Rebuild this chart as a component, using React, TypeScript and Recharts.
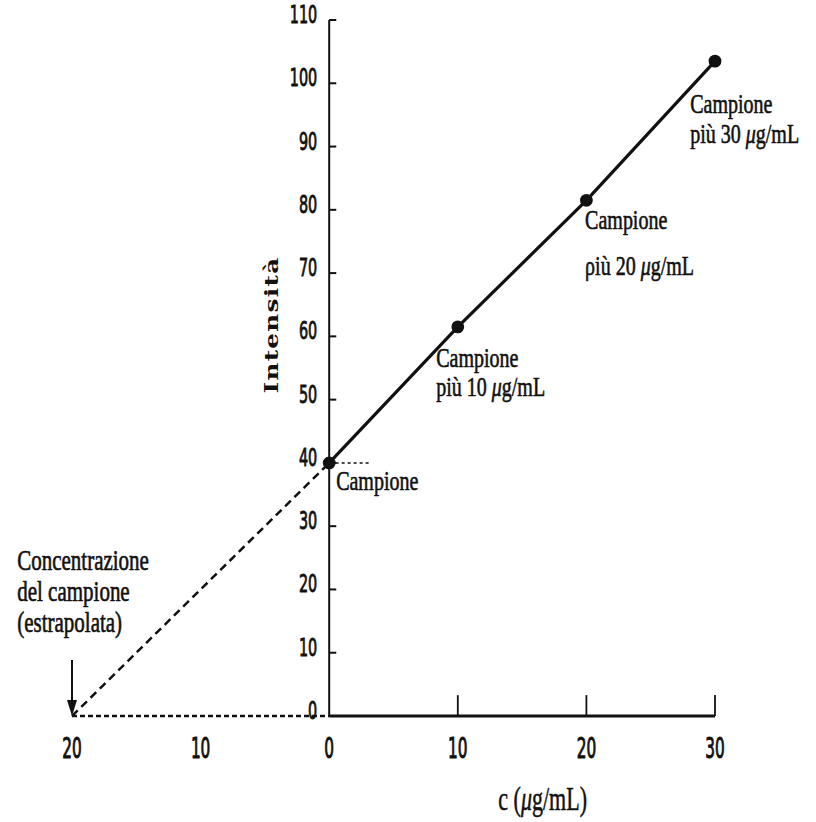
import React from "react";
import {
  ComposedChart,
  Line,
  XAxis,
  YAxis,
  ReferenceLine,
  ReferenceDot,
} from "recharts";

// ---- data ----
const concValues = [0, 10, 20, 30];
const intensityValues = [40, 61.5, 81.5, 103.5];
const xTicks = [-20, -10, 0, 10, 20, 30];
const yTicks = [0, 10, 20, 30, 40, 50, 60, 70, 80, 90, 100, 110];
const extrapolatedConc = -20;
const sampleIntensity = 40;

const data = concValues.map((c, i) => ({ conc: c, intensity: intensityValues[i] }));

// annotation anchors (data units)
const annotations = [
  { x: 28.07, y: 95.3, lines: ["Campione", "più 30 μg/mL"], gap: 30 },
  { x: 19.9, y: 77.0, lines: ["Campione", "ρiù 20 μg/mL"], gap: 46 },
  { x: 8.32, y: 55.2, lines: ["Campione", "più 10 μg/mL"], gap: 29 },
  { x: 0.54, y: 35.7, lines: ["Campione"], gap: 30 },
];
const extrapLabel = {
  x: -24.26,
  y: 23.1,
  lines: ["Concentrazione", "del campione", "(estrapolata)"],
  gap: 31,
};

const SERIF = "'Liberation Serif', 'Times New Roman', serif";
const NUM = "'DejaVu Sans Condensed', 'Liberation Sans Narrow', sans-serif";
const INK = "#111";

function renderLine(s: string) {
  const idx = s.indexOf("μ");
  if (idx < 0) return s;
  return (
    <>
      {s.slice(0, idx)}
      <tspan fontStyle="italic">μ</tspan>
      {s.slice(idx + 1)}
    </>
  );
}

function makeTextShape(lines: string[], gap: number, size: number, sy: number) {
  return (p: any) => (
    <g transform={`translate(${p.cx},${p.cy}) scale(1,${sy})`}>
      <text
        fontFamily={SERIF}
        fontSize={size}
        fill={INK}
        stroke={INK}
        strokeWidth={0.45}
        textAnchor="start"
      >
        {lines.map((l, i) => (
          <tspan key={i} x={0} y={(i * gap) / sy}>
            {renderLine(l)}
          </tspan>
        ))}
      </text>
    </g>
  );
}

const XTick = (props: any) => {
  const { x, y, payload } = props;
  return (
    <g transform={`translate(${x},${y + 34}) scale(1,1.65)`}>
      <text
        fontFamily={NUM}
        fontSize={17}
        fill={INK}
        stroke={INK}
        strokeWidth={0.6}
        textAnchor="middle"
      >
        {Math.abs(payload.value)}
      </text>
    </g>
  );
};

const YTickShape = (label: number) => (p: any) => (
  <g transform={`translate(${p.cx - 12},${p.cy + 3}) scale(1,1.5)`}>
    <text
      fontFamily={NUM}
      fontSize={16}
      fill={INK}
      stroke={INK}
      strokeWidth={0.55}
      textAnchor="end"
    >
      {label}
    </text>
  </g>
);

const ArrowHead = (p: any) => (
  <path
    d={`M${p.cx - 5},${p.cy - 16} L${p.cx + 5},${p.cy - 16} L${p.cx},${p.cy} Z`}
    fill={INK}
  />
);

const IntensityLabel = (p: any) => (
  <g transform={`translate(${p.cx},${p.cy}) rotate(-90) scale(1.3,1)`}>
    <text
      fontFamily="'DejaVu Serif', serif"
      fontWeight="bold"
      fontSize={19}
      letterSpacing={1}
      fill={INK}
      textAnchor="middle"
      dominantBaseline="central"
    >
      Intensità
    </text>
  </g>
);

const XTitle = (p: any) => (
  <g transform={`translate(${p.cx},${p.cy}) scale(1,1.55)`}>
    <text
      fontFamily={SERIF}
      fontSize={22}
      fill={INK}
      stroke={INK}
      strokeWidth={0.35}
      textAnchor="middle"
    >
      c (<tspan fontStyle="italic">μ</tspan>g/mL)
    </text>
  </g>
);

export default function App() {
  return (
    <div
      style={{
        position: "fixed",
        left: 0,
        top: 0,
        width: 816,
        height: 822,
        background: "#fff",
      }}
    >
      <ComposedChart
        width={816}
        height={822}
        data={data}
        margin={{ top: 20, right: 101, bottom: 46, left: 72 }}
      >
        <XAxis
          type="number"
          dataKey="conc"
          domain={[-20, 30]}
          ticks={xTicks}
          interval={0}
          axisLine={false}
          tickLine={false}
          height={60}
          tick={<XTick />}
        />
        <YAxis type="number" domain={[0, 110]} hide />

        {/* y axis line */}
        <ReferenceLine
          segment={[
            { x: 0, y: 0 },
            { x: 0, y: 110 },
          ]}
          stroke={INK}
          strokeWidth={2}
        />
        {/* y ticks */}
        {yTicks
          .filter((v) => v > 0)
          .map((v) => (
            <ReferenceLine
              key={"yt" + v}
              segment={[
                { x: 0, y: v },
                { x: 0.55, y: v },
              ]}
              stroke={INK}
              strokeWidth={2}
            />
          ))}
        {yTicks.map((v) => (
          <ReferenceDot
            key={"yl" + v}
            x={0}
            y={v}
            r={0}
            ifOverflow="visible"
            shape={YTickShape(v)}
          />
        ))}

        {/* x axis solid part */}
        <ReferenceLine
          segment={[
            { x: 0, y: 0 },
            { x: 30, y: 0 },
          ]}
          stroke={INK}
          strokeWidth={3}
        />
        {concValues
          .filter((v) => v > 0)
          .map((v) => (
            <ReferenceLine
              key={"xt" + v}
              segment={[
                { x: v, y: 0 },
                { x: v, y: 3.3 },
              ]}
              stroke={INK}
              strokeWidth={1.8}
            />
          ))}

        {/* extrapolation dashed lines */}
        <ReferenceLine
          segment={[
            { x: extrapolatedConc, y: 0 },
            { x: 0, y: 0 },
          ]}
          stroke={INK}
          strokeWidth={2.5}
          strokeDasharray="5 3"
        />
        <ReferenceLine
          segment={[
            { x: extrapolatedConc, y: 0 },
            { x: 0, y: sampleIntensity },
          ]}
          stroke={INK}
          strokeWidth={2.5}
          strokeDasharray="8 5"
        />
        <ReferenceLine
          segment={[
            { x: 0.5, y: sampleIntensity },
            { x: 3.3, y: sampleIntensity },
          ]}
          stroke={INK}
          strokeWidth={1.5}
          strokeDasharray="3 3"
        />

        {/* arrow */}
        <ReferenceLine
          segment={[
            { x: extrapolatedConc, y: 8.85 },
            { x: extrapolatedConc, y: 2 },
          ]}
          stroke={INK}
          strokeWidth={2}
        />
        <ReferenceDot
          x={extrapolatedConc}
          y={0}
          r={0}
          ifOverflow="visible"
          shape={ArrowHead}
        />

        <Line
          dataKey="intensity"
          stroke={INK}
          strokeWidth={3.2}
          dot={{ r: 4.8, fill: INK, stroke: INK }}
          activeDot={false}
          isAnimationActive={false}
        />

        {annotations.map((a, i) => (
          <ReferenceDot
            key={"an" + i}
            x={a.x}
            y={a.y}
            r={0}
            ifOverflow="visible"
            shape={makeTextShape(a.lines, a.gap, 20, 1.38)}
          />
        ))}
        <ReferenceDot
          x={extrapLabel.x}
          y={extrapLabel.y}
          r={0}
          ifOverflow="visible"
          shape={makeTextShape(extrapLabel.lines, extrapLabel.gap, 21, 1.45)}
        />
        <ReferenceDot x={-4.51} y={61.8} r={0} ifOverflow="visible" shape={IntensityLabel} />
        <ReferenceDot x={16.6} y={-14.9} r={0} ifOverflow="visible" shape={XTitle} />
      </ComposedChart>
    </div>
  );
}
